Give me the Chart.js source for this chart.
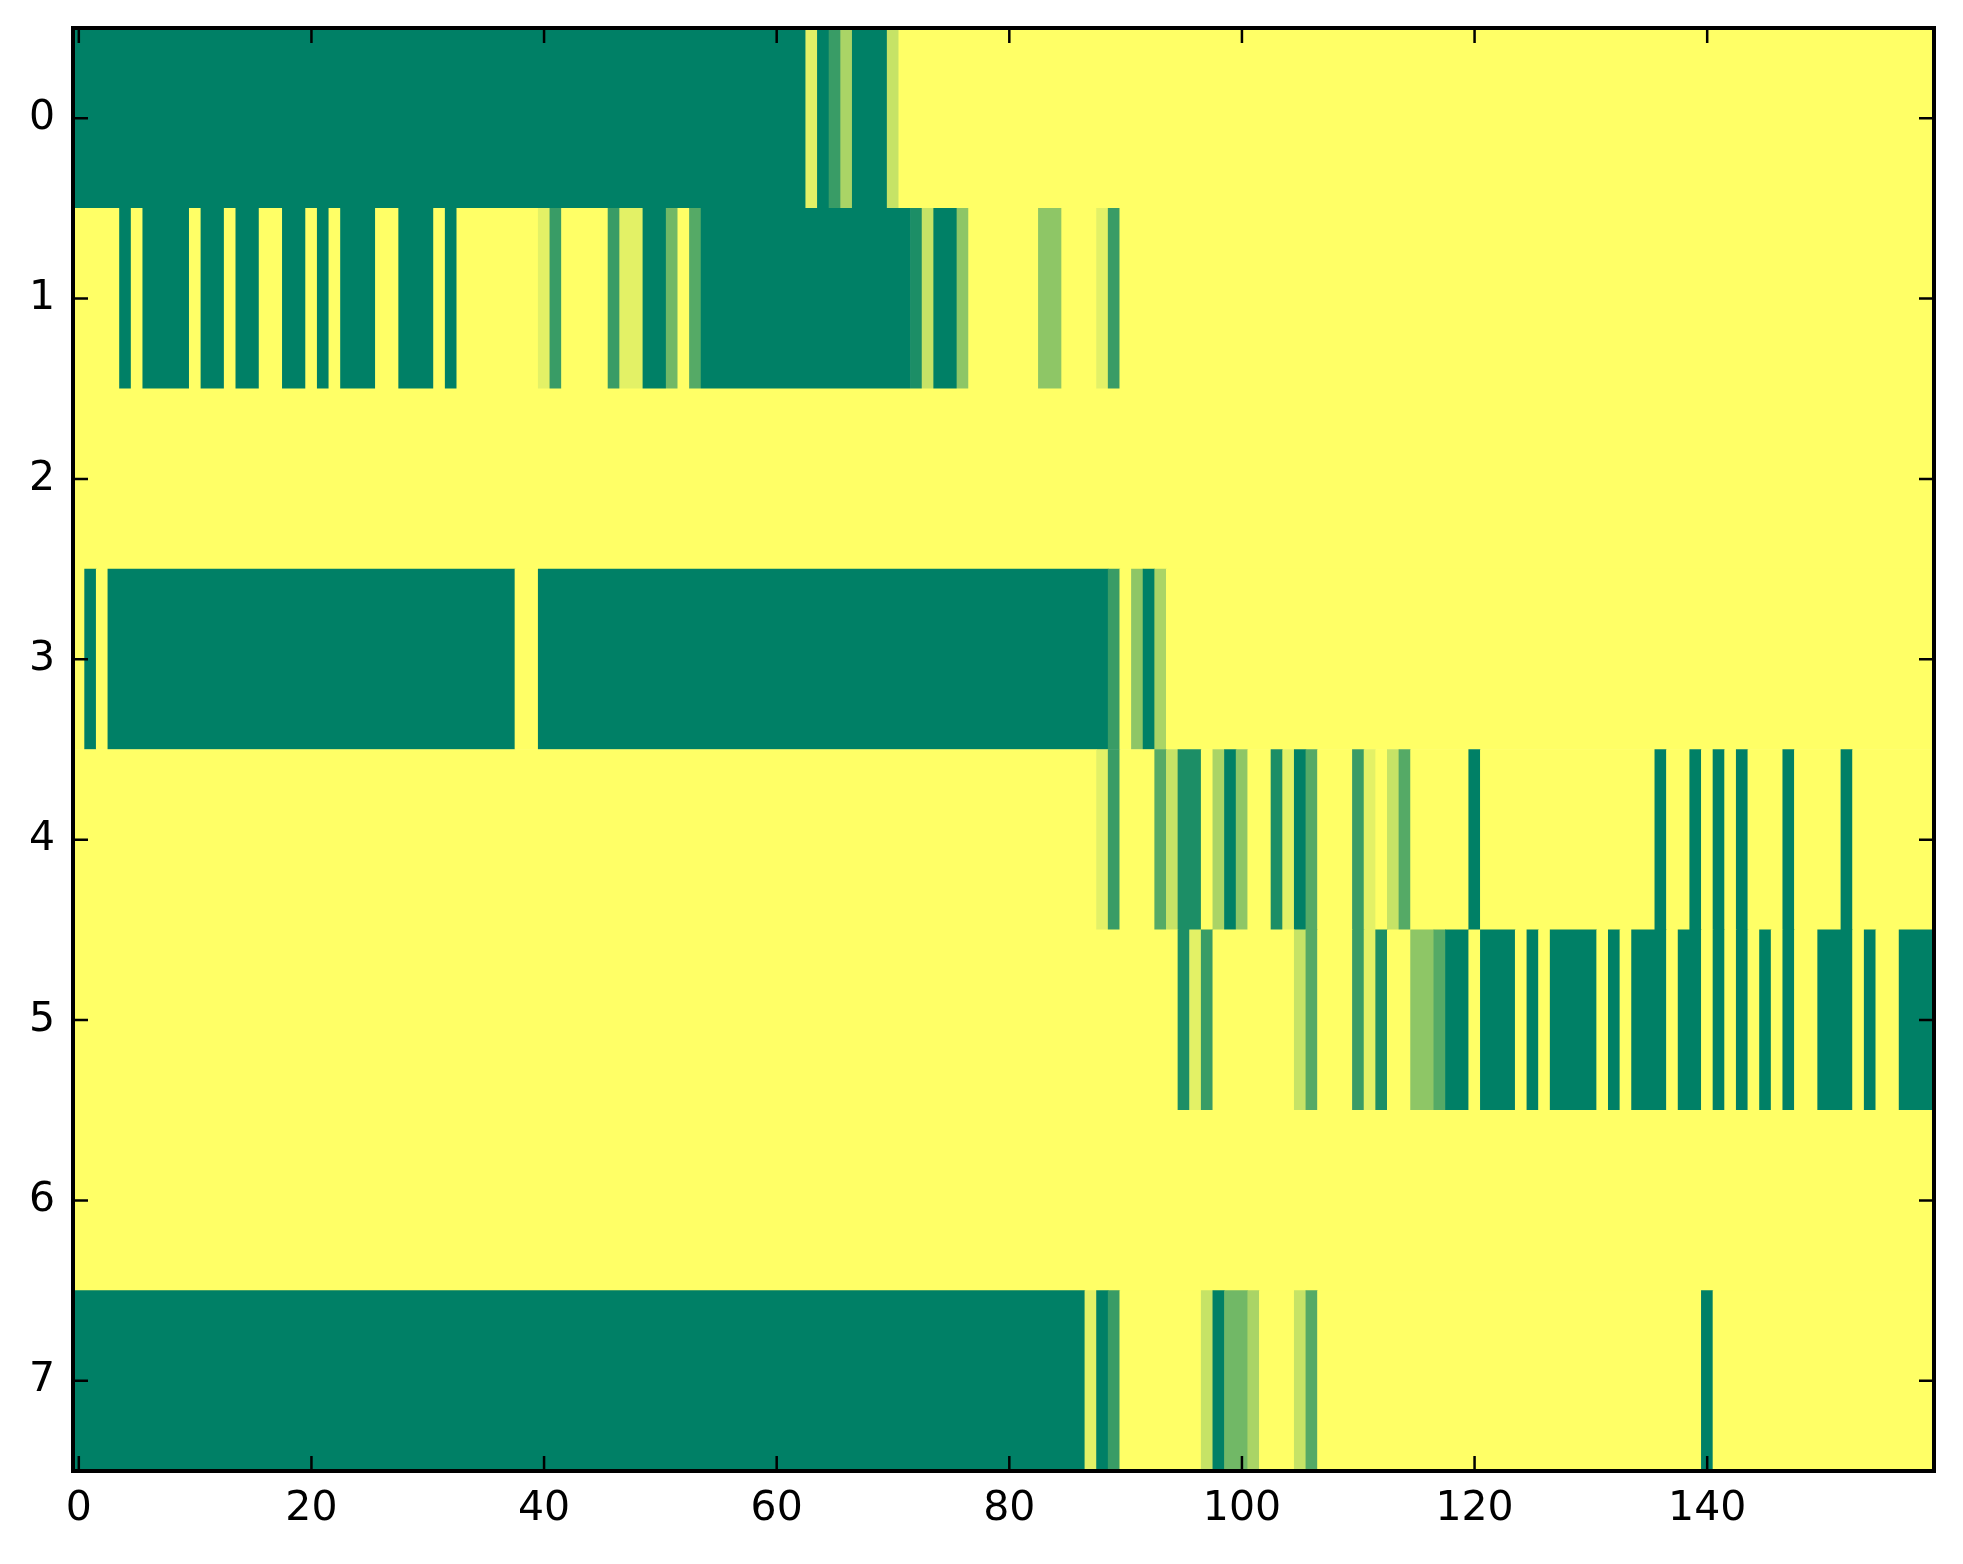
<!DOCTYPE html>
<html>
<head>
<meta charset="utf-8">
<script src="https://cdn.jsdelivr.net/npm/chart.js@4.4.1/dist/chart.umd.min.js"></script>
<style>
  html, body { margin: 0; padding: 0; background: #fff; }
  #wrap { width: 1963px; height: 1564px; }
</style>
</head>
<body>
<div id="wrap"><canvas id="heat" width="1963" height="1564"></canvas></div>
<script>
// row labels (top to bottom) and x tick labels
const rowLabels = ['0', '1', '2', '3', '4', '5', '6', '7'];
const xTickValues = [0, 20, 40, 60, 80, 100, 120, 140];
const maxLevel = 9; // cell values are levels 0..9 of the colour map

// one array per row, 160 columns each (0..159)
const row0 = [
  0,0,0,0,0,0,0,0,0,0,0,0,0,0,0,0,0,0,0,0,
  0,0,0,0,0,0,0,0,0,0,0,0,0,0,0,0,0,0,0,0,
  0,0,0,0,0,0,0,0,0,0,0,0,0,0,0,0,0,0,0,0,
  0,0,0,8,0,2,6,0,0,0,7,9,9,9,9,9,9,9,9,9,
  9,9,9,9,9,9,9,9,9,9,9,9,9,9,9,9,9,9,9,9,
  9,9,9,9,9,9,9,9,9,9,9,9,9,9,9,9,9,9,9,9,
  9,9,9,9,9,9,9,9,9,9,9,9,9,9,9,9,9,9,9,9,
  9,9,9,9,9,9,9,9,9,9,9,9,9,9,9,9,9,9,9,9
];
const row1 = [
  9,9,9,9,0,9,0,0,0,0,9,0,0,9,0,0,9,9,0,0,
  9,0,9,0,0,0,9,9,0,0,0,9,0,9,9,9,9,9,9,9,
  8,2,9,9,9,9,2,8,8,0,0,4,9,3,0,0,0,0,0,0,
  0,0,0,0,0,0,0,0,0,0,0,0,1,7,0,0,5,9,9,9,
  9,9,9,5,5,9,9,9,8,2,9,9,9,9,9,9,9,9,9,9,
  9,9,9,9,9,9,9,9,9,9,9,9,9,9,9,9,9,9,9,9,
  9,9,9,9,9,9,9,9,9,9,9,9,9,9,9,9,9,9,9,9,
  9,9,9,9,9,9,9,9,9,9,9,9,9,9,9,9,9,9,9,9
];
const row2 = [
  9,9,9,9,9,9,9,9,9,9,9,9,9,9,9,9,9,9,9,9,
  9,9,9,9,9,9,9,9,9,9,9,9,9,9,9,9,9,9,9,9,
  9,9,9,9,9,9,9,9,9,9,9,9,9,9,9,9,9,9,9,9,
  9,9,9,9,9,9,9,9,9,9,9,9,9,9,9,9,9,9,9,9,
  9,9,9,9,9,9,9,9,9,9,9,9,9,9,9,9,9,9,9,9,
  9,9,9,9,9,9,9,9,9,9,9,9,9,9,9,9,9,9,9,9,
  9,9,9,9,9,9,9,9,9,9,9,9,9,9,9,9,9,9,9,9,
  9,9,9,9,9,9,9,9,9,9,9,9,9,9,9,9,9,9,9,9
];
const row3 = [
  9,0,9,0,0,0,0,0,0,0,0,0,0,0,0,0,0,0,0,0,
  0,0,0,0,0,0,0,0,0,0,0,0,0,0,0,0,0,0,9,9,
  0,0,0,0,0,0,0,0,0,0,0,0,0,0,0,0,0,0,0,0,
  0,0,0,0,0,0,0,0,0,0,0,0,0,0,0,0,0,0,0,0,
  0,0,0,0,0,0,0,0,0,2,9,5,0,6,9,9,9,9,9,9,
  9,9,9,9,9,9,9,9,9,9,9,9,9,9,9,9,9,9,9,9,
  9,9,9,9,9,9,9,9,9,9,9,9,9,9,9,9,9,9,9,9,
  9,9,9,9,9,9,9,9,9,9,9,9,9,9,9,9,9,9,9,9
];
const row4 = [
  9,9,9,9,9,9,9,9,9,9,9,9,9,9,9,9,9,9,9,9,
  9,9,9,9,9,9,9,9,9,9,9,9,9,9,9,9,9,9,9,9,
  9,9,9,9,9,9,9,9,9,9,9,9,9,9,9,9,9,9,9,9,
  9,9,9,9,9,9,9,9,9,9,9,9,9,9,9,9,9,9,9,9,
  9,9,9,9,9,9,9,9,8,2,9,9,9,3,7,1,1,9,6,0,
  5,9,9,1,8,0,3,9,9,9,2,8,9,7,3,9,9,9,9,9,
  0,9,9,9,9,9,9,9,9,9,9,9,9,9,9,9,0,9,9,0,
  9,0,9,0,9,9,9,0,9,9,9,9,0,9,9,9,9,9,9,9
];
const row5 = [
  9,9,9,9,9,9,9,9,9,9,9,9,9,9,9,9,9,9,9,9,
  9,9,9,9,9,9,9,9,9,9,9,9,9,9,9,9,9,9,9,9,
  9,9,9,9,9,9,9,9,9,9,9,9,9,9,9,9,9,9,9,9,
  9,9,9,9,9,9,9,9,9,9,9,9,9,9,9,9,9,9,9,9,
  9,9,9,9,9,9,9,9,9,9,9,9,9,9,9,1,8,2,9,9,
  9,9,9,9,9,7,3,9,9,9,2,8,1,9,9,5,5,3,0,0,
  9,0,0,0,9,0,9,0,0,0,0,9,0,9,0,0,0,9,0,0,
  9,0,9,0,9,0,9,0,9,9,0,0,0,9,0,9,9,0,0,0
];
const row6 = [
  9,9,9,9,9,9,9,9,9,9,9,9,9,9,9,9,9,9,9,9,
  9,9,9,9,9,9,9,9,9,9,9,9,9,9,9,9,9,9,9,9,
  9,9,9,9,9,9,9,9,9,9,9,9,9,9,9,9,9,9,9,9,
  9,9,9,9,9,9,9,9,9,9,9,9,9,9,9,9,9,9,9,9,
  9,9,9,9,9,9,9,9,9,9,9,9,9,9,9,9,9,9,9,9,
  9,9,9,9,9,9,9,9,9,9,9,9,9,9,9,9,9,9,9,9,
  9,9,9,9,9,9,9,9,9,9,9,9,9,9,9,9,9,9,9,9,
  9,9,9,9,9,9,9,9,9,9,9,9,9,9,9,9,9,9,9,9
];
const row7 = [
  0,0,0,0,0,0,0,0,0,0,0,0,0,0,0,0,0,0,0,0,
  0,0,0,0,0,0,0,0,0,0,0,0,0,0,0,0,0,0,0,0,
  0,0,0,0,0,0,0,0,0,0,0,0,0,0,0,0,0,0,0,0,
  0,0,0,0,0,0,0,0,0,0,0,0,0,0,0,0,0,0,0,0,
  0,0,0,0,0,0,0,8,0,2,9,9,9,9,9,9,9,7,0,4,
  4,6,9,9,9,7,3,9,9,9,9,9,9,9,9,9,9,9,9,9,
  9,9,9,9,9,9,9,9,9,9,9,9,9,9,9,9,9,9,9,9,
  0,9,9,9,9,9,9,9,9,9,9,9,9,9,9,9,9,9,9,9
];
const rows = [row0, row1, row2, row3, row4, row5, row6, row7];

// matplotlib 'summer' colour map
function summer(level) {
    const t = level / maxLevel;
    const r = Math.round(255 * t);
    const g = Math.round(255 * (0.5 + 0.5 * t));
    return `rgb(${r}, ${g}, 102)`;
}

// merge runs of equal cells into one floating bar each
let cells = [];
for (let r = 0; r < rows.length; r++) {
    let start = 0;
    for (let c = 1; c <= rows[r].length; c++) {
        if (c === rows[r].length || rows[r][c] !== rows[r][start]) {
            cells.push({ y: rowLabels[r], x: [start - 0.5, c - 0.5], v: rows[r][start] });
            start = c;
        }
    }
}

// frame and inward ticks on all four sides
const frameTicks = {
    id: 'frameTicks',
    afterDraw(chart) {
        const ctx = chart.ctx;
        const a = chart.chartArea;
        const xs = chart.scales.x, ys = chart.scales.y;
        const len = 15;
        ctx.save();
        ctx.strokeStyle = '#000';
        ctx.lineWidth = 2.5;
        ctx.beginPath();
        xTickValues.forEach(v => {
            const px = xs.getPixelForValue(v);
            ctx.moveTo(px, a.bottom); ctx.lineTo(px, a.bottom - len);
            ctx.moveTo(px, a.top); ctx.lineTo(px, a.top + len);
        });
        rowLabels.forEach((l, i) => {
            const py = ys.getPixelForValue(i);
            ctx.moveTo(a.left, py); ctx.lineTo(a.left + len, py);
            ctx.moveTo(a.right, py); ctx.lineTo(a.right - len, py);
        });
        ctx.stroke();
        ctx.lineWidth = 4;
        ctx.strokeRect(a.left, a.top, a.right - a.left, a.bottom - a.top);
        ctx.restore();
    }
};

const tickFont = { family: 'DejaVu Sans', size: 41 };

new Chart(document.getElementById('heat').getContext('2d'), {
    type: 'bar',
    data: {
        labels: rowLabels,
        datasets: [{
            data: cells,
            backgroundColor: ctx => summer(ctx.raw.v),
            borderWidth: 0,
            barPercentage: 1,
            categoryPercentage: 1
        }]
    },
    options: {
        indexAxis: 'y',
        responsive: false,
        devicePixelRatio: 1,
        animation: false,
        layout: { padding: { top: 28, right: 29, left: 0, bottom: 0 } },
        plugins: { legend: { display: false }, tooltip: { enabled: false } },
        scales: {
            x: {
                type: 'linear',
                min: -0.5,
                max: 159.5,
                position: 'bottom',
                afterBuildTicks: s => { s.ticks = xTickValues.map(v => ({ value: v })); },
                afterFit: s => { s.height = 93; s.paddingLeft = 0; s.paddingRight = 0; },
                grid: { display: false, drawTicks: false },
                border: { display: false },
                ticks: { font: tickFont, color: '#000', padding: 14, maxRotation: 0, autoSkip: false }
            },
            y: {
                type: 'category',
                afterFit: s => { s.width = 73; s.paddingTop = 0; s.paddingBottom = 0; },
                grid: { display: false, drawTicks: false },
                border: { display: false },
                ticks: { font: tickFont, color: '#000', padding: 18 }
            }
        }
    },
    plugins: [frameTicks]
});
</script>
</body>
</html>
